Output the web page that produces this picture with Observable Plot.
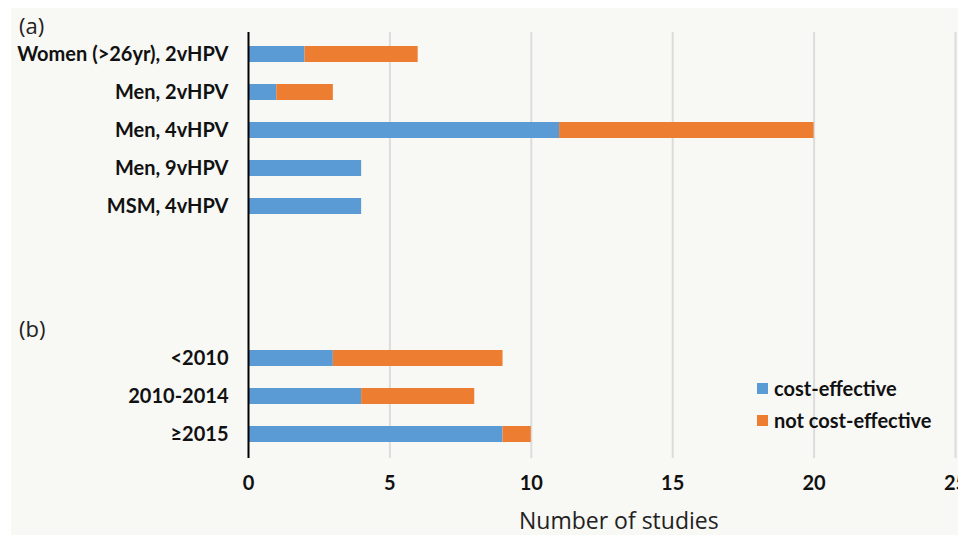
<!DOCTYPE html>
<html>
<head>
<meta charset="utf-8">
<script src="https://cdn.jsdelivr.net/npm/d3@7"></script>
<script src="https://cdn.jsdelivr.net/npm/@observablehq/plot@0.6"></script>
<style>
  html, body { margin: 0; padding: 0; background: #ffffff; }
  #wrap { position: relative; width: 958px; height: 535px; overflow: hidden; background: #ffffff; }
  #bg { position: absolute; left: 11px; top: 8px; right: 0; bottom: 0; background: #f8f8f5; }
  #chart { position: absolute; left: 0; top: 0; }
  .panel { position: absolute; font-family: "Open Sans", sans-serif; font-size: 22px; color: #222; line-height: 1; }
  .xtitle { position: absolute; font-family: "Open Sans", sans-serif; font-size: 23px; color: #222; line-height: 1; white-space: nowrap; }
  .legend { position: absolute; left: 757px; top: 372px; font-family: Lato, sans-serif; font-weight: bold; font-size: 20px; color: #111; }
  .legend div { display: flex; align-items: center; height: 32px; }
  .legend span.sw { display: inline-block; width: 11px; height: 11px; margin-right: 6px; }
</style>
</head>
<body>
<div id="wrap">
  <div id="bg"></div>
  <div id="chart"></div>
  <div class="panel" style="left:19px; top:14px;">(a)</div>
  <div class="panel" style="left:19px; top:317px;">(b)</div>
  <div class="xtitle" style="left:519px; top:509px;">Number of studies</div>
  <div class="legend" id="legend"></div>
</div>
<script>
// Data
const categories = [
  "Women (>26yr), 2vHPV",
  "Men, 2vHPV",
  "Men, 4vHPV",
  "Men, 9vHPV",
  "MSM, 4vHPV",
  " ", "  ", "   ",
  "<2010",
  "2010-2014",
  "≥2015"
];
const barCategories = ["Women (>26yr), 2vHPV", "Men, 2vHPV", "Men, 4vHPV", "Men, 9vHPV", "MSM, 4vHPV", "<2010", "2010-2014", "≥2015"];
const costEffective    = [2, 1, 11, 4, 4, 3, 4, 9];
const notCostEffective = [4, 2, 9, 0, 0, 6, 4, 1];
const seriesNames = ["cost-effective", "not cost-effective"];
const seriesColors = ["#5b9bd5", "#ed7d31"];
const xTicks = [0, 5, 10, 15, 20, 25];

const rows = [];
barCategories.forEach((c, i) => rows.push({category: c, status: seriesNames[0], value: costEffective[i]}));
barCategories.forEach((c, i) => rows.push({category: c, status: seriesNames[1], value: notCostEffective[i]}));

const chart = Plot.plot({
  width: 958,
  height: 535,
  marginTop: 32,
  marginBottom: 80,
  marginLeft: 248,
  marginRight: 3,
  style: {background: "transparent", fontFamily: "Lato, sans-serif", fontSize: "20px", fontWeight: "bold", color: "#111"},
  x: {domain: [0, 25], ticks: xTicks, label: null},
  y: {domain: categories, paddingInner: 0.58, paddingOuter: 0.29, label: null},
  color: {domain: seriesNames, range: seriesColors},
  marks: [
    Plot.gridX(xTicks.filter(d => d > 0), {stroke: "#dcdcdc", strokeOpacity: 1, strokeWidth: 2, insetBottom: -3}),
    Plot.barX(rows, Plot.stackX({x: "value", y: "category", fill: "status"})),
    Plot.ruleX([0], {stroke: "#000", strokeWidth: 2, insetBottom: -3}),
    Plot.axisX({ticks: xTicks, tickSize: 0, tickPadding: 20, label: null, fontSize: 20, fontWeight: "bold"}),
    Plot.axisY({tickSize: 0, tickPadding: 20, label: null, fontSize: 20, fontWeight: "bold"})
  ]
});
document.getElementById("chart").appendChild(chart);

const leg = document.getElementById("legend");
seriesNames.forEach((s, i) => {
  const row = document.createElement("div");
  const sw = document.createElement("span");
  sw.className = "sw";
  sw.style.background = seriesColors[i];
  row.appendChild(sw);
  row.appendChild(document.createTextNode(s));
  leg.appendChild(row);
});
</script>
</body>
</html>
